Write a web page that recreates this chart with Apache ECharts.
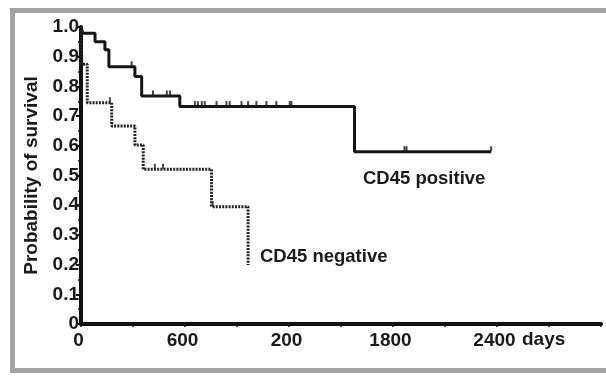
<!DOCTYPE html>
<html>
<head>
<meta charset="utf-8">
<script src="https://cdn.jsdelivr.net/npm/echarts@6/dist/echarts.min.js"></script>
<style>
html,body{margin:0;padding:0;background:#fff;}
#chart{width:606px;height:378px;}
</style>
</head>
<body>
<div id="chart"></div>
<script>
// ---- data ----
// CD45 positive: event times (days) and survival after each event
var posTimes = [10, 81, 138, 161, 311, 350, 570, 1578];
var posSurv  = [0.979, 0.95, 0.923, 0.866, 0.833, 0.768, 0.732, 0.58];
var posEnd   = 2366;
var posCensorT = [292, 311, 415, 495, 513, 657, 674, 697, 714, 782, 839, 858, 926, 964, 1012, 1070, 1127, 1204, 1214, 1866, 1878, 2366];

// CD45 negative
var negTimes = [5, 36, 177, 311, 359, 753, 964];
var negSurv  = [0.875, 0.745, 0.667, 0.603, 0.521, 0.395, 0.199];
var negEnd   = 964;
var negCensorT = [167, 426, 473, 760];

// axis tick labels
var xTickValues = [0, 600, 1200, 1800, 2400];
var xTickLabels = ['0', '600', '200', '1800', '2400'];
var yTickValues = [0, 0.1, 0.2, 0.3, 0.4, 0.5, 0.6, 0.7, 0.8, 0.9, 1.0];
var yTickLabels = ['0', '0.1', '0.2', '0.3', '0.4', '0.5', '0.6', '0.7', '0.8', '0.9', '1.0'];

// ---- build step paths ----
function kmPath(times, surv, end) {
  var pts = [[0, 1]];
  var prev = 1;
  for (var i = 0; i < times.length; i++) {
    pts.push([times[i], prev]);
    pts.push([times[i], surv[i]]);
    prev = surv[i];
  }
  if (end > times[times.length - 1]) pts.push([end, prev]);
  return pts;
}
function survAt(times, surv, t) {
  var s = 1;
  for (var i = 0; i < times.length; i++) { if (times[i] <= t) s = surv[i]; }
  return s;
}
function censorPts(times, surv, cts) {
  return cts.map(function (t) { return [t, survAt(times, surv, t)]; });
}

var font = '"Liberation Sans", Arial, sans-serif';
var chart = echarts.init(document.getElementById('chart'), null, {renderer: 'canvas'});
chart.setOption({
  animation: false,
  backgroundColor: '#ffffff',
  grid: {left: 81, right: 5, top: 27, bottom: 54, containLabel: false},
  xAxis: {
    type: 'value', min: 0, max: 3000, interval: 300,
    axisLine: {show: true, onZero: false, lineStyle: {color: '#111', width: 4}},
    axisTick: {show: true, length: 3, lineStyle: {color: '#111', width: 1.5}},
    splitLine: {show: false},
    axisLabel: {
      margin: 7, color: '#1a1a1a', fontFamily: font, fontWeight: 'bold', fontSize: 19,
      padding: [0, 5, 0, 0],
      formatter: function (v) {
        var i = xTickValues.indexOf(v);
        return i >= 0 ? xTickLabels[i] : '';
      }
    }
  },
  yAxis: {
    type: 'value', min: 0, max: 1, interval: 0.1,
    name: 'Probability of survival', nameLocation: 'middle', nameGap: 38,
    nameTextStyle: {color: '#1a1a1a', fontFamily: font, fontWeight: 'bold', fontSize: 19},
    axisLine: {show: true, onZero: false, lineStyle: {color: '#111', width: 4}},
    axisTick: {show: true, length: 5, lineStyle: {color: '#111', width: 2}},
    minorTick: {show: true, splitNumber: 2, length: 3, lineStyle: {color: '#111', width: 1.5}},
    splitLine: {show: false},
    axisLabel: {
      margin: 2, color: '#1a1a1a', fontFamily: font, fontWeight: 'bold', fontSize: 19,
      formatter: function (v) {
        for (var i = 0; i < yTickValues.length; i++) {
          if (Math.abs(yTickValues[i] - v) < 1e-6) return yTickLabels[i];
        }
        return '';
      }
    }
  },
  series: [
    {
      name: 'CD45 positive', type: 'line', symbol: 'none',
      data: kmPath(posTimes, posSurv, posEnd),
      lineStyle: {color: '#151515', width: 3}
    },
    {
      name: 'CD45 negative', type: 'line', symbol: 'none',
      data: kmPath(negTimes, negSurv, negEnd),
      lineStyle: {color: '#222', width: 3, type: [2, 1.2]}
    },
    {
      type: 'scatter', symbol: 'rect', symbolSize: [2, 5], symbolOffset: [0, -3],
      itemStyle: {color: '#151515'},
      data: censorPts(posTimes, posSurv, posCensorT)
    },
    {
      type: 'scatter', symbol: 'rect', symbolSize: [2, 5], symbolOffset: [0, -3],
      itemStyle: {color: '#222'},
      data: censorPts(negTimes, negSurv, negCensorT)
    }
  ],
  graphic: [
    {type: 'rect', shape: {x: 12.5, y: 10.5, width: 610, height: 360},
     style: {fill: 'none', stroke: '#a3a3a3', lineWidth: 5}, silent: true},
    {type: 'text', left: 363, top: 169,
     style: {text: 'CD45 positive', fill: '#1a1a1a', font: 'bold 18.5px ' + font}},
    {type: 'text', left: 260, top: 247,
     style: {text: 'CD45 negative', fill: '#1a1a1a', font: 'bold 18.5px ' + font}},
    {type: 'text', left: 522, top: 330,
     style: {text: 'days', fill: '#1a1a1a', font: 'bold 19px ' + font}}
  ]
});
</script>
</body>
</html>
